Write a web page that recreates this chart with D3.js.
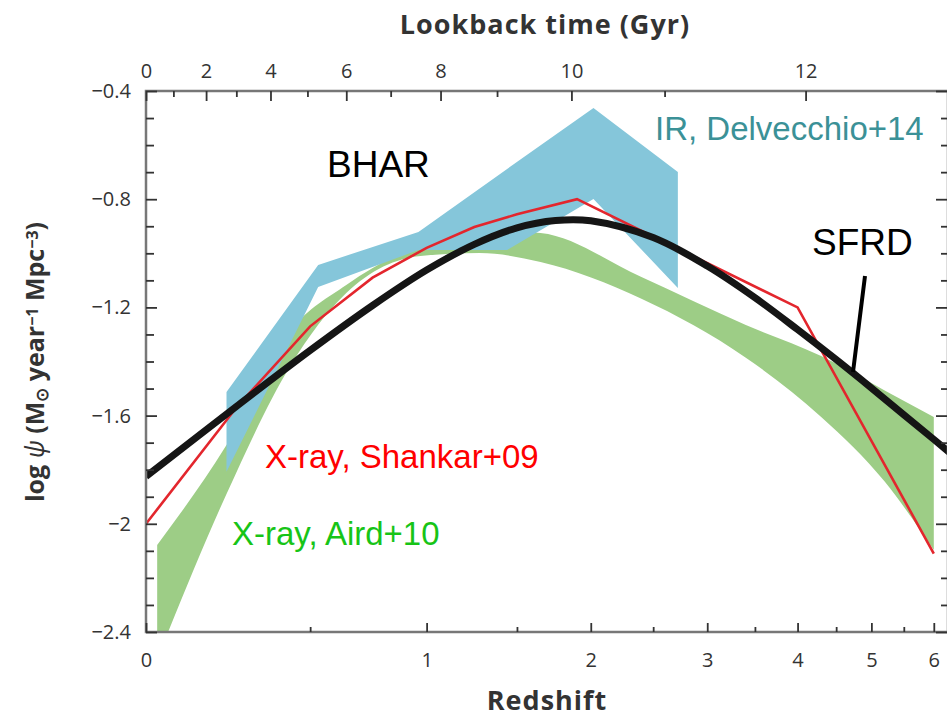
<!DOCTYPE html>
<html>
<head>
<meta charset="utf-8">
<script src="https://cdn.jsdelivr.net/npm/d3@7"></script>
<style>
  body { margin: 0; background: #fff; }
  svg { display: block; }
</style>
</head>
<body>
<svg id="chart" width="947" height="719"></svg>
<script>
// SFRD (black curve)
const sfrdZ   = [0, 0.25, 0.5, 0.75, 1, 1.25, 1.5, 1.75, 2, 2.5, 3, 3.5, 4, 4.5, 5, 5.5, 6, 6.5];
const sfrdLog = [-1.825, -1.566, -1.359, -1.193, -1.062, -0.967, -0.906, -0.879, -0.880, -0.942, -1.047, -1.164, -1.282, -1.393, -1.498, -1.597, -1.688, -1.774];

// X-ray, Shankar+09 (red line)
const shankarZ   = [0, 0.25, 0.5, 0.75, 1, 1.25, 1.5, 1.9, 4, 6];
const shankarLog = [-2.0, -1.57, -1.27, -1.09, -0.98, -0.903, -0.856, -0.80, -1.20, -2.11];

// X-ray, Aird+10 (green band)
const airdZ     = [0.028, 0.22, 0.43, 0.64, 0.97, 1.28, 1.65, 2.4, 3.4, 4.3, 5.2, 6.0];
const airdUpper = [-2.078, -1.709, -1.284, -1.117, -0.969, -0.914, -0.925, -1.088, -1.265, -1.38, -1.507, -1.605];
const airdLower = [-2.5, -1.89, -1.413, -1.147, -1.010, -0.999, -1.032, -1.168, -1.386, -1.605, -1.844, -2.097];

// IR, Delvecchio+14 (blue band)
const irZ     = [0.22, 0.53, 0.96, 1.44, 2.02, 2.72];
const irUpper = [-1.513, -1.043, -0.921, -0.688, -0.463, -0.699];
const irLower = [-1.808, -1.125, -0.988, -0.988, -0.799, -1.128];

// axes
const yMajor = [-0.4, -0.8, -1.2, -1.6, -2, -2.4];
const yMinor = [-0.5, -0.6, -0.7, -0.9, -1.0, -1.1, -1.3, -1.4, -1.5, -1.7, -1.8, -1.9, -2.1, -2.2, -2.3];
const zMajor = [0, 1, 2, 3, 4, 5, 6];
const zMinor = [0.5, 1.5, 2.5, 3.5, 4.5, 5.5];
const lookbackMajor  = [0, 2, 4, 6, 8, 10, 12];
const lookbackMajorZ = [0, 0.16, 0.36, 0.64, 1.07, 1.86, 4.10];
const lookbackMinorZ = [0.07, 0.25, 0.49, 0.83, 1.38, 2.60];

const svg = d3.select('#chart');
const plot = { left: 146, right: 948, top: 91, bottom: 632 };

// redshift axis is log(1+z)
const x = d3.scaleLog().domain([1, 7.25]).range([plot.left, plot.right]);
const X = z => x(1 + z);
const y = d3.scaleLinear().domain([-2.4, -0.4]).range([plot.bottom, plot.top]);

svg.append('defs').append('clipPath').attr('id', 'clip')
  .append('rect').attr('x', plot.left).attr('y', plot.top)
  .attr('width', plot.right - plot.left).attr('height', plot.bottom - plot.top);

const g = svg.append('g').attr('clip-path', 'url(#clip)');

// green band
const airdData = airdZ.map((z, i) => ({ z, lo: airdLower[i], hi: airdUpper[i] }));
g.append('path').datum(airdData)
  .attr('d', d3.area().x(d => X(d.z)).y0(d => y(d.lo)).y1(d => y(d.hi)).curve(d3.curveMonotoneX))
  .attr('fill', '#9dcd86');

// blue band
const irData = irZ.map((z, i) => ({ z, lo: irLower[i], hi: irUpper[i] }));
g.append('path').datum(irData)
  .attr('d', d3.area().x(d => X(d.z)).y0(d => y(d.lo)).y1(d => y(d.hi)))
  .attr('fill', '#85c6da');

// red line
g.append('path').datum(shankarZ.map((z, i) => [z, shankarLog[i]]))
  .attr('d', d3.line().x(d => X(d[0])).y(d => y(d[1])))
  .attr('fill', 'none').attr('stroke', '#e3262d').attr('stroke-width', 2.6)
  .attr('stroke-linejoin', 'miter');

// black SFRD curve
g.append('path').datum(sfrdZ.map((z, i) => [z, sfrdLog[i]]))
  .attr('d', d3.line().x(d => X(d[0])).y(d => y(d[1])).curve(d3.curveCatmullRom.alpha(0.5)))
  .attr('fill', 'none').attr('stroke', '#151515').attr('stroke-width', 7);

// frame
svg.append('rect')
  .attr('x', plot.left).attr('y', plot.top)
  .attr('width', plot.right - plot.left).attr('height', plot.bottom - plot.top)
  .attr('fill', 'none').attr('stroke', '#777').attr('stroke-width', 2.5);

const tickFont = '"Open Sans", "Liberation Sans", sans-serif';
const fmtY = d => (d < 0 ? '\u2212' : '') + Math.abs(d);

function styleAxis(sel, fontSize) {
  sel.select('.domain').remove();
  sel.selectAll('.tick line').attr('stroke', '#333').attr('stroke-width', 1.8);
  sel.selectAll('.tick text').attr('fill', '#333')
    .style('font-family', tickFont).style('font-size', fontSize + 'px');
}

// left axis
svg.append('g').attr('transform', `translate(${plot.left},0)`)
  .call(d3.axisLeft(y).tickValues(yMajor).tickFormat(fmtY).tickSize(-11).tickPadding(15))
  .call(s => styleAxis(s, 20));
svg.append('g').attr('transform', `translate(${plot.left},0)`)
  .call(d3.axisLeft(y).tickValues(yMinor).tickFormat('').tickSize(-8))
  .call(s => styleAxis(s, 20));

// right axis (ticks only)
svg.append('g').attr('transform', `translate(${plot.right},0)`)
  .call(d3.axisRight(y).tickValues(yMajor).tickFormat('').tickSize(-12))
  .call(s => styleAxis(s, 20));
svg.append('g').attr('transform', `translate(${plot.right},0)`)
  .call(d3.axisRight(y).tickValues(yMinor).tickFormat('').tickSize(-7))
  .call(s => styleAxis(s, 20));

// bottom axis
svg.append('g').attr('transform', `translate(0,${plot.bottom})`)
  .call(d3.axisBottom(x).tickValues(zMajor.map(z => 1 + z)).tickFormat(d => Math.round(d - 1))
    .tickSize(-9).tickPadding(21))
  .call(s => styleAxis(s, 20));
svg.append('g').attr('transform', `translate(0,${plot.bottom})`)
  .call(d3.axisBottom(x).tickValues(zMinor.map(z => 1 + z)).tickFormat('').tickSize(-5))
  .call(s => styleAxis(s, 20));

// top axis: lookback time
svg.append('g').attr('transform', `translate(0,${plot.top})`)
  .call(d3.axisTop(x).tickValues(lookbackMajorZ.map(z => 1 + z))
    .tickFormat((d, i) => lookbackMajor[i]).tickSize(-10).tickPadding(13))
  .call(s => styleAxis(s, 20));
svg.append('g').attr('transform', `translate(0,${plot.top})`)
  .call(d3.axisTop(x).tickValues(lookbackMinorZ.map(z => 1 + z)).tickFormat('').tickSize(-6))
  .call(s => styleAxis(s, 20));

// axis titles
const titleFont = '"Open Sans", "Liberation Sans", sans-serif';
svg.append('text').attr('x', 545).attr('y', 34).attr('text-anchor', 'middle')
  .style('font-family', titleFont).style('font-size', '27px').style('font-weight', 700)
  .style('letter-spacing', '1px').attr('fill', '#333').text('Lookback time (Gyr)');
svg.append('text').attr('x', 547).attr('y', 710).attr('text-anchor', 'middle')
  .style('font-family', titleFont).style('font-size', '27px').style('font-weight', 700)
  .style('letter-spacing', '1px').attr('fill', '#333').text('Redshift');

const yt = svg.append('text').attr('transform', 'translate(44,362) rotate(-90)')
  .attr('text-anchor', 'middle')
  .style('font-family', titleFont).style('font-size', '25px').style('font-weight', 700)
  .attr('fill', '#333');
yt.append('tspan').text('log ');
yt.append('tspan').style('font-style', 'italic').style('font-weight', 400).text('\u03c8');
yt.append('tspan').text(' (M');
yt.append('tspan').attr('baseline-shift', '-25%').style('font-size', '17px').text('\u2299');
yt.append('tspan').text(' year');
yt.append('tspan').attr('baseline-shift', '40%').style('font-size', '16px').text('\u22121');
yt.append('tspan').text(' Mpc');
yt.append('tspan').attr('baseline-shift', '40%').style('font-size', '16px').text('\u22123');
yt.append('tspan').text(')');

// annotations
const annFont = '"Liberation Sans", Arial, sans-serif';
function label(txt, lx, ly, size, color) {
  svg.append('text').attr('x', lx).attr('y', ly)
    .style('font-family', annFont).style('font-size', size + 'px')
    .attr('fill', color).text(txt);
}
label('BHAR', 327, 177, 37, '#000');
label('IR, Delvecchio+14', 655, 140, 33, '#3b9197');
label('SFRD', 812, 255, 37, '#000');
label('X-ray, Shankar+09', 265, 468, 33, '#ff0000');
label('X-ray, Aird+10', 232, 545, 33, '#17c417');

// pointer from SFRD label to the curve
svg.append('line').attr('x1', 865).attr('y1', 276).attr('x2', 853).attr('y2', 372)
  .attr('stroke', '#000').attr('stroke-width', 4);
</script>
</body>
</html>
